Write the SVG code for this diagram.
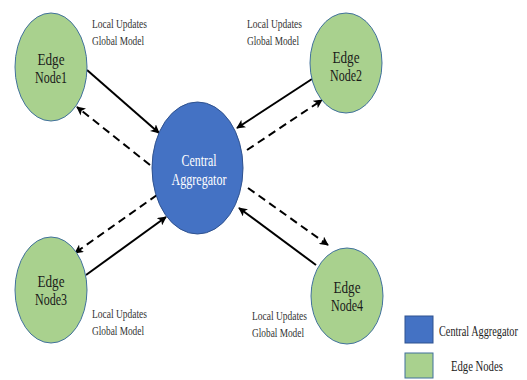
<svg xmlns="http://www.w3.org/2000/svg" width="527" height="380" viewBox="0 0 527 380">
<style>
.edge{fill:#A9D18E;stroke:#41719C;stroke-width:1}
.central{fill:#4472C4;stroke:#2F528F;stroke-width:1}
.nt{font-family:"Liberation Serif",serif;font-size:16px;fill:#1a1a1a;text-anchor:middle}
.ct{font-family:"Liberation Serif",serif;font-size:16px;fill:#ffffff;text-anchor:middle}
.lb{font-family:"Liberation Serif",serif;font-size:12px;fill:#333333}
.lg{font-family:"Liberation Serif",serif;font-size:14px;fill:#222222}
.solid{stroke:#000;stroke-width:2;fill:none}
.dash{stroke:#000;stroke-width:2;fill:none;stroke-dasharray:8 5}
</style>
<defs>
<marker id="ah" viewBox="0 0 10 10" refX="9" refY="5" markerWidth="4.5" markerHeight="4.5" orient="auto" markerUnits="strokeWidth">
<path d="M0,0 L10,5 L0,10 L2.5,5 Z" fill="#000"/>
</marker>
</defs>
<rect width="527" height="380" fill="#ffffff"/>
<g id="connectors">
<line class="solid" x1="87" y1="70" x2="159" y2="133" marker-end="url(#ah)"/>
<line class="dash" x1="150" y1="165" x2="77" y2="107" marker-end="url(#ah)"/>
<line class="solid" x1="312" y1="79" x2="237" y2="128" marker-end="url(#ah)"/>
<line class="dash" x1="247" y1="150" x2="322" y2="100" marker-end="url(#ah)"/>
<line class="dash" x1="157" y1="195" x2="75" y2="253" marker-end="url(#ah)"/>
<line class="solid" x1="86" y1="275" x2="166" y2="217" marker-end="url(#ah)"/>
<line class="dash" x1="248" y1="188" x2="328" y2="245" marker-end="url(#ah)"/>
<line class="solid" x1="316" y1="265" x2="239" y2="208" marker-end="url(#ah)"/>
</g>
<g id="central">
<ellipse class="central" cx="197.5" cy="168" rx="45.5" ry="66"/>
<text class="ct" x="199" y="166" textLength="35" lengthAdjust="spacingAndGlyphs">Central</text>
<text class="ct" x="199" y="185" textLength="55" lengthAdjust="spacingAndGlyphs">Aggregator</text>
</g>
<g id="node1">
<ellipse class="edge" cx="51" cy="67" rx="36" ry="54"/>
<text class="nt" x="51" y="65" textLength="27" lengthAdjust="spacingAndGlyphs">Edge</text>
<text class="nt" x="51" y="83" textLength="32" lengthAdjust="spacingAndGlyphs">Node1</text>
</g>
<g id="node2">
<ellipse class="edge" cx="346" cy="63" rx="36" ry="50"/>
<text class="nt" x="346" y="63" textLength="27" lengthAdjust="spacingAndGlyphs">Edge</text>
<text class="nt" x="346" y="81" textLength="32" lengthAdjust="spacingAndGlyphs">Node2</text>
</g>
<g id="node3">
<ellipse class="edge" cx="51" cy="290" rx="36" ry="53"/>
<text class="nt" x="51" y="287" textLength="27" lengthAdjust="spacingAndGlyphs">Edge</text>
<text class="nt" x="51" y="305" textLength="32" lengthAdjust="spacingAndGlyphs">Node3</text>
</g>
<g id="node4">
<ellipse class="edge" cx="347" cy="296" rx="36" ry="48"/>
<text class="nt" x="347" y="293" textLength="27" lengthAdjust="spacingAndGlyphs">Edge</text>
<text class="nt" x="347" y="311" textLength="32" lengthAdjust="spacingAndGlyphs">Node4</text>
</g>
<g id="labels">
<text class="lb" x="92" y="28" textLength="55" lengthAdjust="spacingAndGlyphs">Local Updates</text>
<text class="lb" x="92" y="45" textLength="52" lengthAdjust="spacingAndGlyphs">Global Model</text>
<text class="lb" x="247" y="28" textLength="55" lengthAdjust="spacingAndGlyphs">Local Updates</text>
<text class="lb" x="247" y="45" textLength="52" lengthAdjust="spacingAndGlyphs">Global Model</text>
<text class="lb" x="92" y="318" textLength="55" lengthAdjust="spacingAndGlyphs">Local Updates</text>
<text class="lb" x="92" y="335" textLength="52" lengthAdjust="spacingAndGlyphs">Global Model</text>
<text class="lb" x="252" y="320" textLength="55" lengthAdjust="spacingAndGlyphs">Local Updates</text>
<text class="lb" x="252" y="337" textLength="52" lengthAdjust="spacingAndGlyphs">Global Model</text>
</g>
<g id="legend">
<rect class="central" x="405" y="316" width="28" height="27"/>
<text class="lg" transform="translate(439,336) scale(0.73,1)" x="0" y="0" textLength="108" lengthAdjust="spacingAndGlyphs">Central Aggregator</text>
<rect class="edge" x="405" y="353" width="28" height="25"/>
<text class="lg" transform="translate(451,371) scale(0.73,1)" x="0" y="0" textLength="71" lengthAdjust="spacingAndGlyphs">Edge Nodes</text>
</g>
</svg>
